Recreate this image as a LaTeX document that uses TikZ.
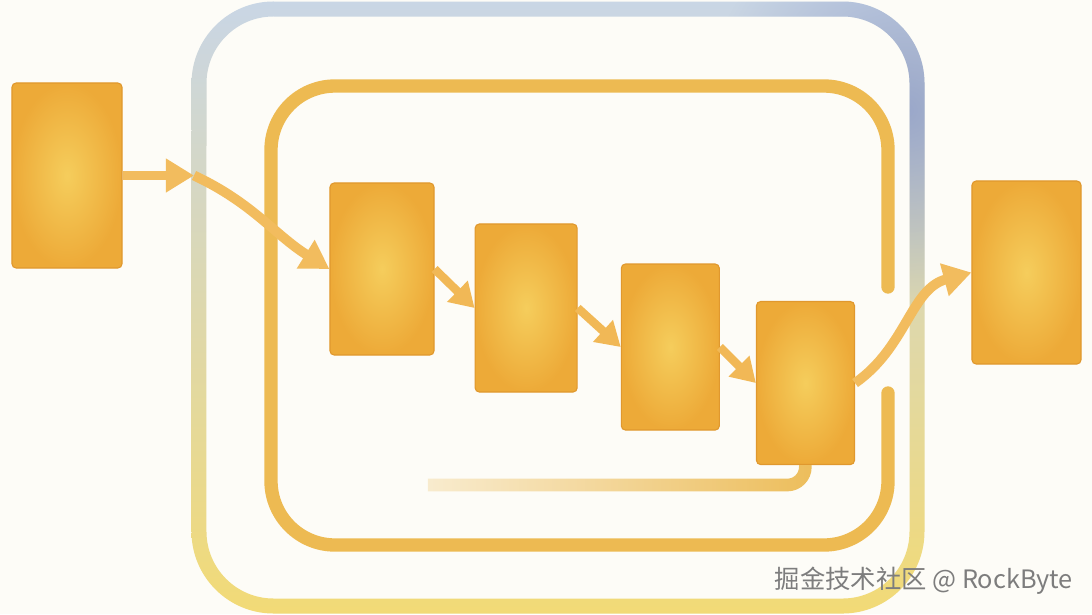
\documentclass[tikz,border=0pt]{standalone}
\usepackage{fontspec}
\usepackage{xcolor}
\usepackage{tikz}
\usetikzlibrary{positioning,arrows.meta,fadings}
\newfontfamily\cjk{Noto Sans CJK SC}

\definecolor{paper}{HTML}{FDFCF7}
\definecolor{boxedge}{HTML}{E0982E}
\definecolor{boxlight}{HTML}{F5CD5C}
\definecolor{boxdark}{HTML}{EDAA38}
\definecolor{flowcol}{HTML}{F2BC5E}
\definecolor{loopcol}{HTML}{EDBA52}
\definecolor{ringtop}{HTML}{C9D6E5}
\definecolor{ringmid}{HTML}{ECE6D3}
\definecolor{ringbot}{HTML}{F2DA76}
\definecolor{ringtint}{HTML}{8C9BC8}
\definecolor{backcol}{HTML}{EDBE5C}
\definecolor{markgray}{HTML}{7D7D7D}

\tikzfading[name=softspot, inner color=transparent!0, outer color=transparent!100]
\tikzfading[name=fadeleft, left color=transparent!75, right color=transparent!0]

% outer band: outside edge, then inside edge
\newcommand{\ringpath}{(273.5,1.5) -- (842.5,1.5) arc (90:0:2.05cm) -- (924.5,531.5) arc (0:-90:2.05cm)
  -- (273.5,613.5) arc (270:180:2.05cm) -- (191.5,83.5) arc (180:90:2.05cm) -- cycle
  (273.5,16.5) -- (842.5,16.5) arc (90:0:1.675cm) -- (909.5,531.5) arc (0:-90:1.675cm)
  -- (273.5,598.5) arc (270:180:1.675cm) -- (206.5,83.5) arc (180:90:1.675cm) -- cycle}

\begin{document}
\begin{tikzpicture}[x=0.025cm, y=-0.025cm,
    stagebox/.style={draw=boxedge, line width=0.8pt, rectangle, rounded corners=3pt,
      inner color=boxlight, outer color=boxdark},
    flow/.style={flowcol, line width=7pt, -{Triangle[length=0.7cm, width=0.8cm]}},
    flowsmall/.style={flowcol!80!boxdark, line width=6pt, -{Triangle[length=0.6cm, width=0.7cm]}},
    loopline/.style={loopcol, line width=9.5pt, line cap=round, rounded corners=1.6cm},
    backline/.style={backcol, line width=9pt, rounded corners=0.45cm, path fading=fadeleft}]

    \useasboundingbox (0,0) rectangle (1092,614);
    \fill [paper] (0,0) rectangle (1092,614);

    % Outer loop
    \shade [even odd rule, top color=ringtop, middle color=ringmid, bottom color=ringbot] \ringpath;
    \begin{scope}[even odd rule]
      \clip \ringpath;
      \fill [ringtint, opacity=0.8, path fading=softspot] (905,110) circle [radius=5cm];
    \end{scope}

    % Inner loop
    \draw [loopline] (888,287) -- (888,86) -- (271,86) -- (271,545) -- (888,545) -- (888,393);

    % Boxes
    \node [stagebox, minimum width=2.75cm, minimum height=4.625cm] (boxA) at (67,175.5) {};
    \node [stagebox, minimum width=2.6cm, minimum height=4.3cm] (boxB) at (382,269) {};
    \node [stagebox, minimum width=2.55cm, minimum height=4.2cm, right=1cm of boxB, yshift=-0.975cm] (boxC) {};
    \node [stagebox, minimum width=2.45cm, minimum height=4.15cm, right=1.075cm of boxC, yshift=-0.975cm] (boxD) {};
    \node [stagebox, minimum width=2.45cm, minimum height=4.075cm, right=0.9cm of boxD, yshift=-0.9cm] (boxE) {};
    \node [stagebox, minimum width=2.725cm, minimum height=4.575cm] (boxF) at (1026.5,272.5) {};

    % Line back from the last stage
    \coordinate (backEnd) at (428,485);
    \draw [backline] (boxE.south) |- (backEnd);

    % Arrows
    \coordinate (gateIn) at (194,175.5);
    \draw [flow] (boxA.east) -- (gateIn);
    \draw [flow] (gateIn) to [out=-25, in=148] (boxB.west);
    \draw [flowsmall] (boxB.east) -- (boxC.west);
    \draw [flowsmall] (boxC.east) -- (boxD.west);
    \draw [flowsmall] (boxD.east) -- (boxE.west);
    \draw [flow] (boxE.east) to [out=35, in=195] (boxF.west);

    % Watermark
    \node [font=\cjk\fontsize{18}{20}\selectfont, text=markgray, anchor=east, inner sep=0pt] (mark) at (1073,581) {掘金技术社区 @ RockByte};
\end{tikzpicture}
\end{document}
